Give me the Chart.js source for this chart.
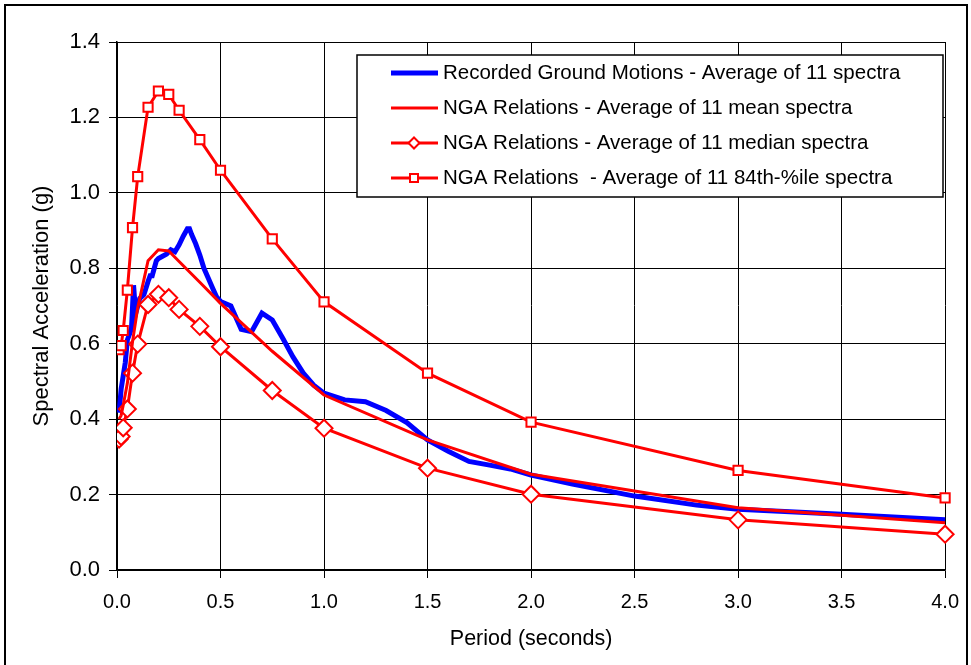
<!DOCTYPE html>
<html>
<head>
<meta charset="utf-8">
<title>Response spectra</title>
<script src="https://cdn.jsdelivr.net/npm/chart.js@4.4.0/dist/chart.umd.min.js"></script>
<style>
    body { margin: 0; background: #fff; overflow: hidden; }
    #wrap { position: relative; width: 971px; height: 665px; }
    #frame {
        position: absolute; left: 4px; top: 4px; width: 964px; height: 720px;
        border: 2px solid #000; box-sizing: border-box; pointer-events: none;
    }
</style>
</head>
<body>
<div id="wrap">
    <canvas id="spectraChart" width="971" height="665"></canvas>
    <div id="frame"></div>
</div>
<script>
// periods (s) used by the NGA curves
const ngaPeriods = [0.01, 0.02, 0.03, 0.05, 0.075, 0.1, 0.15, 0.2, 0.25, 0.3, 0.4, 0.5, 0.75, 1.0, 1.5, 2.0, 3.0, 4.0, 5.0];
const ngaMean    = [0.400, 0.410, 0.437, 0.495, 0.605, 0.695, 0.820, 0.849, 0.846, 0.818, 0.763, 0.707, 0.580, 0.464, 0.345, 0.254, 0.165, 0.125, 0.088];
const ngaMedian  = [0.347, 0.354, 0.377, 0.427, 0.522, 0.599, 0.704, 0.731, 0.722, 0.691, 0.646, 0.592, 0.476, 0.376, 0.270, 0.201, 0.133, 0.095, 0.068];
const nga84th    = [0.584, 0.595, 0.635, 0.742, 0.908, 1.043, 1.227, 1.270, 1.261, 1.219, 1.141, 1.060, 0.878, 0.711, 0.522, 0.392, 0.264, 0.191, 0.135];

// recorded ground motions (average of 11 spectra)
const recPeriods = [0.01, 0.02, 0.03, 0.04, 0.05, 0.06, 0.07, 0.08, 0.09, 0.1, 0.11, 0.12, 0.13, 0.15, 0.16, 0.17, 0.18, 0.19, 0.2,
                    0.22, 0.24, 0.26, 0.28, 0.3, 0.32, 0.34, 0.35, 0.36, 0.38, 0.4, 0.42, 0.44, 0.46, 0.48, 0.5, 0.55, 0.6, 0.65,
                    0.7, 0.75, 0.8, 0.85, 0.9, 0.95, 1.0, 1.1, 1.2, 1.3, 1.4, 1.5, 1.6, 1.7, 1.8, 1.9, 2.0, 2.2, 2.5, 2.8, 3.0,
                    3.5, 4.0, 5.0];
const recValues  = [0.417, 0.480, 0.515, 0.550, 0.610, 0.625, 0.640, 0.755, 0.680, 0.700, 0.720, 0.725, 0.730, 0.765, 0.780, 0.780, 0.800, 0.820, 0.826,
                    0.832, 0.838, 0.849, 0.844, 0.862, 0.885, 0.905, 0.905, 0.890, 0.865, 0.835, 0.800, 0.775, 0.750, 0.725, 0.712, 0.700, 0.638, 0.632,
                    0.681, 0.663, 0.615, 0.565, 0.522, 0.490, 0.469, 0.451, 0.446, 0.423, 0.391, 0.345, 0.315, 0.288, 0.278, 0.268, 0.252, 0.228, 0.196, 0.172, 0.161,
                    0.148, 0.133, 0.100];

const seriesLabels = [
    'Recorded Ground Motions - Average of 11 spectra',
    'NGA Relations - Average of 11 mean spectra',
    'NGA Relations - Average of 11 median spectra',
    'NGA Relations  - Average of 11 84th-%ile spectra'
];

const xTitle = 'Period (seconds)';
const yTitle = 'Spectral Acceleration (g)';
const FONT = "'Liberation Sans', Arial, sans-serif";

function toPoints(xs, ys) {
    return xs.map((x, i) => ({ x: x, y: ys[i] }));
}

// legend drawn as a framed box inside the plot, like the original
const legendBox = {
    id: 'legendBox',
    afterDraw(chart) {
        const ctx = chart.ctx;
        const area = chart.chartArea;
        const left = area.left + 240, top = area.top + 13, w = 586, h = 142;
        ctx.save();
        ctx.fillStyle = '#fff';
        ctx.fillRect(left, top, w, h);
        ctx.strokeStyle = '#000';
        ctx.lineWidth = 1.5;
        ctx.strokeRect(left, top, w, h);
        ctx.font = '20.5px ' + FONT;
        ctx.textBaseline = 'middle';
        chart.data.datasets.forEach((ds, i) => {
            const y = top + 18 + i * 35;
            const mx = left + 57;
            ctx.strokeStyle = ds.borderColor;
            ctx.lineWidth = ds.borderWidth;
            ctx.beginPath();
            ctx.moveTo(left + 34, y);
            ctx.lineTo(left + 81, y);
            ctx.stroke();
            if (ds.pointRadius > 0) {
                ctx.fillStyle = '#fff';
                ctx.lineWidth = 2;
                ctx.beginPath();
                if (ds.pointStyle === 'rect') {
                    ctx.rect(mx - 4, y - 4, 8, 8);
                } else {
                    ctx.moveTo(mx - 5.5, y);
                    ctx.lineTo(mx, y - 5.5);
                    ctx.lineTo(mx + 5.5, y);
                    ctx.lineTo(mx, y + 5.5);
                    ctx.closePath();
                }
                ctx.fill();
                ctx.stroke();
            }
            ctx.fillStyle = '#000';
            ctx.fillText(ds.label, left + 86, y);
        });
        ctx.restore();
    }
};

function buildChart() {
    const ctx = document.getElementById('spectraChart').getContext('2d');
    const clipRight = { left: 0, top: 0, right: 11, bottom: 0 };
    new Chart(ctx, {
        type: 'line',
        data: {
            datasets: [
                {
                    label: seriesLabels[0],
                    data: toPoints(recPeriods, recValues),
                    borderColor: '#0000ff',
                    borderWidth: 5,
                    pointRadius: 0,
                    order: 5,
                    clip: clipRight
                },
                {
                    label: seriesLabels[1],
                    data: toPoints(ngaPeriods, ngaMean),
                    borderColor: '#ff0000',
                    borderWidth: 3,
                    pointRadius: 0,
                    order: 1,
                    clip: clipRight
                },
                {
                    label: seriesLabels[2],
                    data: toPoints(ngaPeriods, ngaMedian),
                    borderColor: '#ff0000',
                    borderWidth: 3,
                    pointStyle: 'rectRot',
                    pointRadius: 8.5,
                    pointBorderWidth: 2,
                    pointBackgroundColor: '#fff',
                    pointBorderColor: '#ff0000',
                    order: 1,
                    clip: clipRight
                },
                {
                    label: seriesLabels[3],
                    data: toPoints(ngaPeriods, nga84th),
                    borderColor: '#ff0000',
                    borderWidth: 3,
                    pointStyle: 'rect',
                    pointRadius: 6.5,
                    pointBorderWidth: 2,
                    pointBackgroundColor: '#fff',
                    pointBorderColor: '#ff0000',
                    order: 1,
                    clip: clipRight
                }
            ]
        },
        options: {
            responsive: false,
            animation: false,
            layout: { padding: { top: 42, right: 25, left: 0, bottom: 0 } },
            plugins: {
                legend: { display: false },
                tooltip: { enabled: false }
            },
            elements: { line: { tension: 0 } },
            scales: {
                x: {
                    type: 'linear',
                    min: 0,
                    max: 4,
                    afterFit: function(scale) { scale.height = 95; },
                    border: { color: '#000', width: 1.5 },
                    grid: { color: '#000', lineWidth: 1, tickLength: 8 },
                    ticks: {
                        stepSize: 0.5,
                        padding: 12,
                        color: '#000',
                        font: { family: FONT, size: 20 },
                        maxRotation: 0,
                        callback: v => v.toFixed(1)
                    },
                    title: {
                        display: true,
                        text: xTitle,
                        color: '#000',
                        font: { family: FONT, size: 21.5 },
                        padding: { top: 0, bottom: 13 }
                    }
                },
                y: {
                    min: 0,
                    max: 1.4,
                    afterFit: function(scale) { scale.width = 117; },
                    border: { color: '#000', width: 1.5 },
                    grid: { color: '#000', lineWidth: 1, tickLength: 8 },
                    ticks: {
                        stepSize: 0.2,
                        padding: 9,
                        color: '#000',
                        font: { family: FONT, size: 22 },
                        callback: v => v.toFixed(1)
                    },
                    title: {
                        display: true,
                        text: yTitle,
                        color: '#000',
                        font: { family: FONT, size: 22 },
                        padding: { top: 29, bottom: 0 }
                    }
                }
            }
        },
        plugins: [legendBox]
    });
}

document.addEventListener('DOMContentLoaded', buildChart);
</script>
</body>
</html>
